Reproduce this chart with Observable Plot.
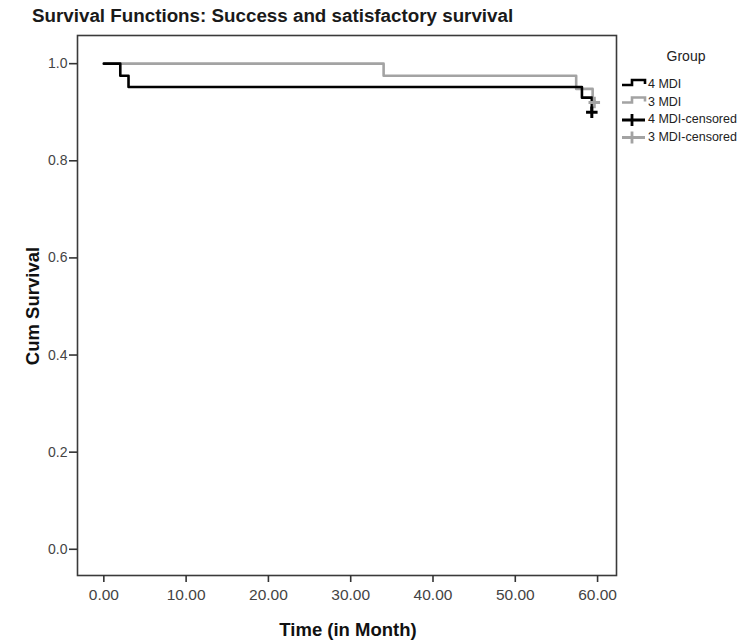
<!DOCTYPE html>
<html><head><meta charset="utf-8">
<script src="https://cdn.jsdelivr.net/npm/d3@7"></script>
<script src="https://cdn.jsdelivr.net/npm/@observablehq/plot@0.6"></script>
<style>
body{margin:0;background:#fff;font-family:"Liberation Sans",Arial,sans-serif;}
#wrap{position:relative;width:753px;height:644px;overflow:hidden;}
.abs{position:absolute;white-space:nowrap;color:#111;}
</style></head><body>
<div id="wrap"></div>
<script>
// Data
const groups = ["4 MDI", "3 MDI"];
const times4 = [0, 2, 3, 58.1, 59.3];
const surv4 = [1, 0.975, 0.952, 0.93, 0.90];
const times3 = [0, 34, 57.4, 59.4, 59.6];
const surv3 = [1, 0.975, 0.948, 0.924, 0.924];
const censTime = [59.3, 59.6];
const censSurv = [0.90, 0.92];
const xTicks = [0, 10, 20, 30, 40, 50, 60];
const yTicks = [0, 0.2, 0.4, 0.6, 0.8, 1.0];
const colors = {"4 MDI": "#000000", "3 MDI": "#a3a3a3"};

const steps = [
  ...times3.map((t, i) => ({group: "3 MDI", time: t, surv: surv3[i]})),
  ...times4.map((t, i) => ({group: "4 MDI", time: t, surv: surv4[i]}))
];
const cens = groups.map((g, i) => ({group: g, time: censTime[i], surv: censSurv[i]})).reverse();

const W = 753, H = 644;
const chart = Plot.plot({
  width: W, height: H,
  marginLeft: 77, marginRight: 137, marginTop: 35, marginBottom: 69,
  style: {fontFamily: '"Liberation Sans", Arial, sans-serif', fontSize: "15.5px", color: "#444", background: "transparent"},
  x: {domain: [-3.2, 62.3], label: null},
  y: {domain: [-0.054, 1.058], label: null},
  marks: [
    Plot.frame({stroke: "#3a3a3a", strokeWidth: 1.6}),
    Plot.axisX({ticks: xTicks, tickFormat: d3.format(".2f"), tickSize: 7, tickPadding: 6, fontSize: 15.5, label: null}),
    Plot.axisY({ticks: yTicks, tickFormat: d3.format(".1f"), tickSize: 8, tickPadding: 2, fontSize: 14, label: null}),
    Plot.line(steps, {x: "time", y: "surv", z: "group", stroke: d => colors[d.group], curve: "step-after", strokeWidth: 2.6}),
    Plot.dot(cens, {x: "time", y: "surv", symbol: "plus", r: 3.8, stroke: d => colors[d.group], strokeWidth: 3})
  ]
});
chart.style.position = "absolute";
chart.style.left = "0"; chart.style.top = "0";
const wrap = document.getElementById("wrap");
wrap.appendChild(chart);
chart.querySelectorAll('[aria-label="x-axis tick"] path, [aria-label="y-axis tick"] path').forEach(p => { p.setAttribute("stroke", "#333"); p.setAttribute("stroke-width", "1.6"); });

function addText(txt, css) {
  const d = document.createElement("div");
  d.className = "abs"; d.textContent = txt;
  Object.assign(d.style, css);
  wrap.appendChild(d);
  return d;
}
addText("Survival Functions: Success and satisfactory survival", {left: "32px", top: "5px", fontSize: "18.8px", fontWeight: "bold", color: "#1a1a1a"});
addText("Time (in Month)", {left: "348px", top: "619px", fontSize: "18.5px", fontWeight: "bold", transform: "translateX(-50%)", color: "#111"});
addText("Cum Survival", {left: "33px", top: "306px", fontSize: "18.5px", fontWeight: "bold", transform: "translate(-50%,-50%) rotate(-90deg)", color: "#111"});
addText("Group", {left: "686px", top: "48px", fontSize: "14px", transform: "translateX(-50%)", color: "#222"});

// Legend
const ns = "http://www.w3.org/2000/svg";
const lg = document.createElementNS(ns, "svg");
lg.setAttribute("width", 30); lg.setAttribute("height", 70);
lg.style.position = "absolute"; lg.style.left = "618px"; lg.style.top = "74px";
const items = [
  {label: "4 MDI", color: colors["4 MDI"], kind: "step"},
  {label: "3 MDI", color: colors["3 MDI"], kind: "step"},
  {label: "4 MDI-censored", color: colors["4 MDI"], kind: "plus"},
  {label: "3 MDI-censored", color: colors["3 MDI"], kind: "plus"}
];
items.forEach((it, i) => {
  const cy = 11 + i * 17.5;
  const p = document.createElementNS(ns, "path");
  if (it.kind === "step") p.setAttribute("d", `M4,${cy} H14 V${cy-5} H27 V${cy-1}`);
  else p.setAttribute("d", `M4,${cy} H27 M14,${cy-6} V${cy+6}`);
  p.setAttribute("fill", "none"); p.setAttribute("stroke", it.color); p.setAttribute("stroke-width", it.kind === "step" ? 2.6 : 2.8);
  lg.appendChild(p);
  addText(it.label, {left: "648px", top: (74 + cy - 8) + "px", fontSize: "12.5px", color: "#222"});
});
wrap.appendChild(lg);
</script>
</body></html>
